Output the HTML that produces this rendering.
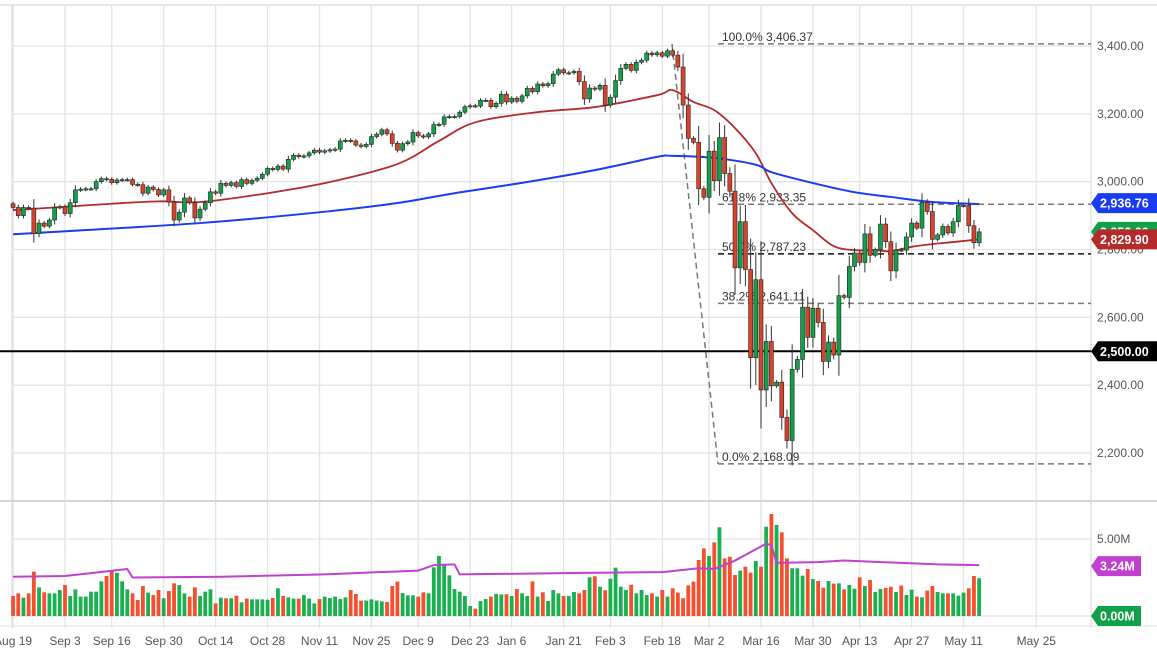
<!DOCTYPE html>
<html><head><meta charset="utf-8">
<style>
html,body{margin:0;padding:0;background:#fff;}
svg{display:block;font-family:"Liberation Sans",sans-serif;}
</style></head>
<body>
<svg id="chart" width="1157" height="652" viewBox="0 0 1157 652" xmlns="http://www.w3.org/2000/svg">
<g id="grid"></g>
<g id="vol"></g>
<g id="fib"></g>
<g id="ma"></g>
<g id="candles"></g>
<g id="axes"></g>
<g id="tags"></g>
</svg>
<script>
const closes=[2924,2900,2924,2922,2847,2878,2869,2887,2924,2926,
2906,2938,2976,2978,2979,2979,3000,3009,3007,2997,3005,3006,3006,2992,
2991,2966,2984,2977,2961,2976,2940,2887,2910,2952,2938,2893,2919,2938,2970,
2966,2995,2989,2997,2986,3006,2995,3004,3010,3022,3039,3036,3046,3037,3066,
3078,3074,3076,3085,3093,3087,3091,3094,3096,3120,3122,3120,3108,3104,3110,
3133,3140,3153,3141,3113,3093,3112,3117,3145,3135,3132,3141,3168,3169,
3191,3192,3192,3205,3221,3224,3223,3240,3240,3221,3231,3258,3235,
3246,3237,3253,3275,3265,3288,3283,3289,3317,3330,3321,3321,3325,3295,
3244,3276,3273,3284,3226,3249,3298,3334,3346,3328,3352,3358,3379,3374,3380,
3370,3386,3373,3338,3226,3128,3116,2979,2954,3090,3003,3130,3024,2972,
2746,2882,2741,2481,2711,2386,2529,2398,2409,2305,2237,2447,2476,2630,2541,
2627,2585,2470,2527,2489,2664,2659,2750,2790,2762,2846,2783,2800,2875,
2823,2737,2799,2798,2837,2878,2863,2939,2912,2830,2843,2868,2849,2882,2930,
2930,2870,2820,2852];
const volumes=[1.30,1.47,1.19,1.47,2.88,1.86,1.54,1.47,1.47,1.69,
2.01,1.30,1.73,1.26,1.26,1.58,1.58,2.25,2.60,2.92,
2.81,2.25,1.73,1.47,1.04,1.95,1.52,1.36,1.69,1.15,
1.62,2.12,2.01,1.47,1.26,1.86,1.30,1.58,1.73,0.82,
1.19,1.15,1.15,1.32,0.89,1.13,1.08,1.08,1.08,1.06,
1.17,1.80,1.30,1.21,1.13,1.13,1.36,1.13,0.82,1.10,
1.26,1.17,1.26,1.10,1.21,1.69,1.43,1.00,1.00,1.08,
1.00,0.95,0.91,1.95,2.23,1.49,1.34,1.34,1.26,1.54,
1.47,3.16,3.90,3.38,2.64,1.75,1.58,1.30,0.65,0.48,
0.97,1.10,1.26,1.43,1.40,
1.41,1.30,1.75,1.47,1.30,2.25,1.26,1.54,0.97,1.69,
1.47,1.30,1.30,1.56,1.47,1.69,2.51,2.58,1.90,1.67,
2.42,3.14,1.90,1.69,2.03,1.47,1.69,1.36,1.47,1.26,
1.69,1.26,1.80,1.52,1.15,1.99,2.23,3.64,4.39,3.90,
4.78,5.76,3.74,3.85,2.66,2.94,3.20,2.81,3.57,3.20,
5.80,6.62,5.91,5.43,3.74,3.10,3.10,2.62,3.05,2.40,
2.27,1.84,2.27,2.10,2.12,1.73,2.01,1.77,2.51,1.95,
2.34,1.56,1.75,1.82,1.90,1.56,1.97,1.36,1.71,1.26,
1.21,1.65,1.95,1.56,1.47,1.47,1.47,1.32,1.52,1.80,
2.60,2.45];
const ma50Idx=[0,9,19,28,36,49,61,74,82,89,101,112,124,127,131,135,139,143,146,150,154,158,162,166,169,173,177,181,186];
const ma50Val=[2916,2925,2935,2942,2940,2966,2999,3052,3120,3175,3205,3220,3255,3270,3235,3211,3158,3084,2996,2907,2857,2810,2798,2798,2795,2808,2816,2822,2830];
const ma200Idx=[0,36,61,74,85,99,112,124,127,135,143,146,154,162,169,177,186];
const ma200Val=[2845,2878,2913,2937,2966,2999,3034,3073,3076,3070,3050,3028,2996,2969,2955,2940,2934];
const volMaIdx=[0,10,18,22,23,40,60,78,81,85,86,110,125,132,135,139,145,146,147,155,160,178,186];
const volMaVal=[2.55,2.6,2.9,3.05,2.5,2.55,2.7,2.95,3.3,3.35,2.7,2.8,2.85,3.1,3.05,3.6,4.7,4.6,3.45,3.5,3.6,3.35,3.3];
const priceTicks=[3400,3200,3000,2800,2600,2400,2200];
const priceTickLabels=["3,400.00","3,200.00","3,000.00","2,800.00","2,600.00","2,400.00","2,200.00"];
const volTicks=[5,0];
const dateIdx=[0,10,19,29,39,49,59,69,78,88,96,106,115,125,134,144,154,163,173,183,197];
const dateLabels=["Aug 19","Sep 3","Sep 16","Sep 30","Oct 14","Oct 28","Nov 11","Nov 25","Dec 9","Dec 23","Jan 6","Jan 21","Feb 3","Feb 18","Mar 2","Mar 16","Mar 30","Apr 13","Apr 27","May 11","May 25"];
const fibLevels=[3406.37,2933.35,2787.23,2641.11,2168.09];
const fibLabels=["100.0%","61.8%","50.0%","38.2%","0.0%"];
const support=2500;

const NS="http://www.w3.org/2000/svg";
const X=i=>13.06+i*5.194;
const Y=v=>46+(3400-v)*0.3392;
const VY=v=>616-v*15.4;
const PR=1091;
function mk(tag,attrs,parent,text){const e=document.createElementNS(NS,tag);for(const k in attrs)e.setAttribute(k,attrs[k]);if(text!==undefined)e.textContent=text;parent.appendChild(e);return e;}
const G=id=>document.getElementById(id);
function smooth(pts){let d="M"+pts[0][0]+","+pts[0][1];for(let i=0;i<pts.length-1;i++){const p0=pts[Math.max(0,i-1)],p1=pts[i],p2=pts[i+1],p3=pts[Math.min(pts.length-1,i+2)];const c1x=p1[0]+(p2[0]-p0[0])/6,c1y=p1[1]+(p2[1]-p0[1])/6,c2x=p2[0]-(p3[0]-p1[0])/6,c2y=p2[1]-(p3[1]-p1[1])/6;d+=` C${c1x},${c1y} ${c2x},${c2y} ${p2[0]},${p2[1]}`;}return d;}

const grid=G('grid');
mk('rect',{x:0,y:0,width:1157,height:652,fill:'#fff'},grid);
mk('line',{x1:0,y1:5,x2:1157,y2:5,stroke:'#ddd','stroke-width':1.5},grid);
priceTicks.forEach(t=>{mk('line',{x1:12,x2:PR,y1:Y(t),y2:Y(t),stroke:'#e3e3e3','stroke-width':1.3},grid);});
mk('line',{x1:12,x2:PR,y1:VY(5),y2:VY(5),stroke:'#e3e3e3','stroke-width':1.3},grid);
mk('line',{x1:12,x2:PR,y1:VY(0),y2:VY(0),stroke:'#e3e3e3','stroke-width':1.3},grid);
dateIdx.forEach(i=>{mk('line',{x1:X(i),x2:X(i),y1:5,y2:628,stroke:'#e3e3e3','stroke-width':1.3},grid);});
mk('line',{x1:12,x2:12,y1:5,y2:628,stroke:'#ddd','stroke-width':1.3},grid);
mk('line',{x1:PR,x2:PR,y1:5,y2:628,stroke:'#ddd','stroke-width':1.3},grid);
mk('line',{x1:0,x2:1157,y1:501,y2:501,stroke:'#d5d5d5','stroke-width':2},grid);
mk('line',{x1:0,x2:1157,y1:626,y2:626,stroke:'#e3e3e3','stroke-width':1.3},grid);

const cg=G('candles'),vg=G('vol');
closes.forEach((c,i)=>{
  const o=i===0?2935:closes[i-1];
  const up=c>=o;
  const x=X(i);
  const pad=Math.max(6,Math.abs(c-o)*0.35);
  const hi=Math.max(o,c)+pad,lo=Math.min(o,c)-pad;
  const w=mk('line',{x1:x,x2:x,y1:Y(hi),y2:Y(lo),stroke:'#333','stroke-width':1},cg);
  
  
  const top=Y(Math.max(o,c)),h=Math.max(1.2,Math.abs(Y(o)-Y(c)));
  const b=mk('rect',{x:x-2,y:top,width:4,height:h,fill:up?'#12a04a':'#d9432c',stroke:'#222','stroke-width':0.6},cg);
  
  
  const v=volumes[i];
  const vb=mk('rect',{x:x-1.9,y:VY(v),width:3.8,height:VY(0)-VY(v),fill:up?'#19b050':'#f4502f'},vg);
  
  
});
const vma=mk('polyline',{points:volMaIdx.map((k,j)=>X(k)+","+VY(volMaVal[j])).join(" "),fill:'none',stroke:'#c040d0','stroke-width':2,'stroke-linejoin':'round'},vg);



const mg=G('ma');
const m50=mk('path',{d:smooth(ma50Idx.map((k,j)=>[X(k),Y(ma50Val[j])])),fill:'none',stroke:'#b52a2a','stroke-width':1.8},mg);


const m200=mk('path',{d:smooth(ma200Idx.map((k,j)=>[X(k),Y(ma200Val[j])])),fill:'none',stroke:'#1a3cf0','stroke-width':2},mg);



const fg=G('fib');
fibLevels.forEach((lv,j)=>{
  const l=mk('line',{x1:718,x2:PR,y1:Y(lv),y2:Y(lv),stroke:j===2?'#111':'#777','stroke-width':1.5,'stroke-dasharray':'6,4'},fg);
  
  
  const t=mk('text',{x:722,y:Y(lv)-3,'font-size':12,fill:'#333'},fg,fibLabels[j]+" "+lv.toLocaleString('en-US',{minimumFractionDigits:2}));
  
  
});
const diag=mk('line',{x1:672,y1:Y(3406),x2:718,y2:Y(2168),stroke:'#777','stroke-width':1.5,'stroke-dasharray':'6,4'},fg);


const sl=mk('line',{x1:0,x2:PR,y1:Y(support),y2:Y(support),stroke:'#000','stroke-width':2},fg);



const ag=G('axes');
priceTicks.forEach((t,j)=>{const e=mk('text',{x:1097,y:Y(t)+4,'font-size':12,fill:'#555'},ag,priceTickLabels[j]);

});
const v5=mk('text',{x:1097,y:VY(5)+4,'font-size':12,fill:'#555'},ag,"5.00M");


dateIdx.forEach((k,j)=>{const e=mk('text',{x:X(k),y:645,'font-size':12,fill:'#555','text-anchor':'middle'},ag,dateLabels[j]);

});

const tg=G('tags');
function tag(y,txt,col,w,name){
  const g=mk('g',{},tg);
  
  
  mk('polygon',{points:`${PR},${y} ${PR+7},${y-10} ${PR+w},${y-10} ${PR+w},${y+10} ${PR+7},${y+10}`,fill:col},g);
  mk('text',{x:PR+9,y:y+4.5,'font-size':12.5,'font-weight':'bold',fill:'#fff'},g,txt);
}
tag(Y(2852),"2,852.00","#12a04a",66,'last-price-tag');
tag(Y(2936.76),"2,936.76","#1a3cf0",66,'ma-200-tag');
tag(Y(2829.9),"2,829.90","#b52a2a",66,'ma-50-tag');
tag(Y(support),"2,500.00","#000",66,'support-tag');
tag(VY(3.24),"3.24M","#c040d0",50,'volume-average-tag');
tag(VY(0),"0.00M","#12a04a",50,'volume-zero-tag');
</script>
</body></html>
